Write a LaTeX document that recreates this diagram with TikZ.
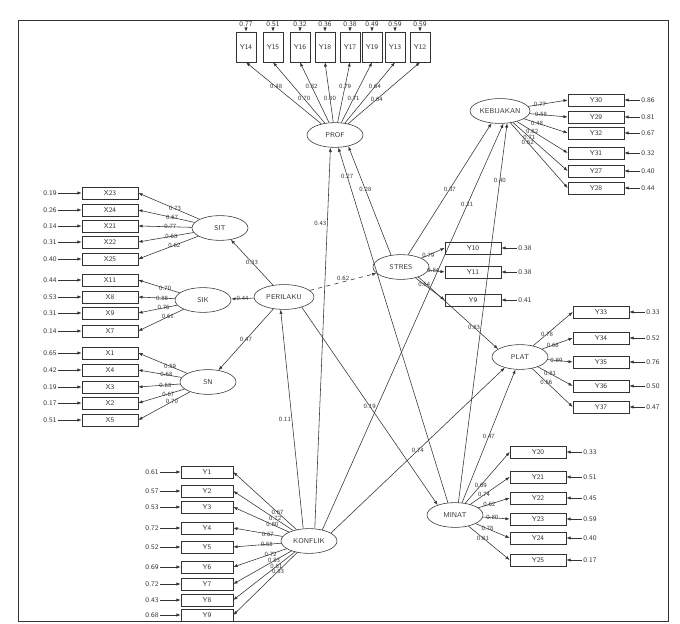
\documentclass[tikz,border=0pt]{standalone}
\usetikzlibrary{shapes.geometric, arrows.meta}

\begin{document}
\begin{tikzpicture}[x=0.025cm, y=-0.025cm, black!80, line width=0.4pt,
  lat/.style={draw, ellipse, minimum width=1.4cm, minimum height=0.62cm, inner sep=0pt, font=\tiny\sffamily},
  ind/.style={draw, rectangle, minimum width=1.4cm, minimum height=0.3cm, inner sep=0pt, font=\tiny\sffamily},
  indv/.style={draw, rectangle, minimum width=0.5cm, minimum height=0.75cm, inner sep=0pt, font=\tiny\sffamily},
  err/.style={font=\tiny\sffamily, inner sep=1pt},
  lbl/.style={font=\fontsize{4.5}{5}\sffamily, inner sep=0.5pt},
  lnk/.style={-{Latex[length=3pt]}}]
  \useasboundingbox (0,0) rectangle (680,624);
  \draw (18,20) rectangle (668,621);

  % latent variables
  \node[lat] (PROF) at (335,135) {PROF};
  \node[lat] (SIT) at (220,228) {SIT};
  \node[lat] (SIK) at (203,300) {SIK};
  \node[lat] (SN) at (208,382) {SN};
  \node[lat, minimum width=1.5cm] (PERILAKU) at (284,297) {PERILAKU};
  \node[lat] (STRES) at (401,267) {STRES};
  \node[lat, minimum width=1.5cm] (KEBIJ) at (500,111) {KEBIJAKAN};
  \node[lat] (PLAT) at (520,357) {PLAT};
  \node[lat] (MINAT) at (455,515) {MINAT};
  \node[lat] (KONFLIK) at (309,541) {KONFLIK};

  % top indicators
  \foreach \nm/\x/\e/\l/\p [count=\i] in {Y14/246/0.77/0.48/0.6, Y15/273/0.51/0.70/0.4, Y16/300/0.32/0.82/0.6,
      Y18/325/0.36/0.80/0.4, Y17/350/0.38/0.79/0.6, Y19/372/0.49/0.71/0.4, Y13/395/0.59/0.64/0.6, Y12/420/0.59/0.64/0.4}{
    \node[indv] (p\i) at (\x,47) {\nm};
    \node[err] (ep\i) at (\x,24) {\e};
    \draw[lnk] (ep\i) -- (p\i);
    \draw[lnk] (PROF) -- node[lbl, pos=\p] {\l} (p\i.south);
  }

  % left indicators
  \foreach \nm/\y/\e/\l [count=\i] in {X23/193/0.19/0.73, X24/210/0.26/0.67, X21/226/0.14/0.77,
      X22/242/0.31/0.68, X25/259/0.40/0.62}{
    \node[ind] (s\i) at (110,\y) {\nm};
    \node[err] (es\i) at (50,\y) {\e};
    \draw[lnk] (es\i) -- (s\i);
    \draw[lnk] (SIT) -- node[lbl, pos=0.4] {\l} (s\i.east);
  }
  \foreach \nm/\y/\e/\l [count=\i] in {X11/280/0.44/0.70, X8/297/0.53/0.88, X9/313/0.31/0.76,
      X7/331/0.14/0.61}{
    \node[ind] (k\i) at (110,\y) {\nm};
    \node[err] (ek\i) at (50,\y) {\e};
    \draw[lnk] (ek\i) -- (k\i);
    \draw[lnk] (SIK) -- node[lbl, pos=0.35] {\l} (k\i.east);
  }
  \foreach \nm/\y/\e/\l [count=\i] in {X1/353/0.65/0.59, X4/370/0.42/0.68, X3/387/0.19/0.68,
      X2/403/0.17/0.67, X5/420/0.51/0.70}{
    \node[ind] (n\i) at (110,\y) {\nm};
    \node[err] (en\i) at (50,\y) {\e};
    \draw[lnk] (en\i) -- (n\i);
    \draw[lnk] (SN) -- node[lbl, pos=0.35] {\l} (n\i.east);
  }

  % right indicators
  \foreach \nm/\y/\e/\l [count=\i] in {Y30/100/0.86/0.77, Y29/117/0.81/0.58, Y32/133/0.67/0.48,
      Y31/153/0.32/0.82, Y27/171/0.40/0.71, Y28/188/0.44/0.62}{
    \node[ind] (b\i) at (596,\y) {\nm};
    \node[err] (eb\i) at (648,\y) {\e};
    \draw[lnk] (eb\i) -- (b\i);
    \draw[lnk] (KEBIJ) -- node[lbl, pos=0.3] {\l} (b\i.west);
  }
  \foreach \nm/\y/\e/\l [count=\i] in {Y10/248/0.38/0.79, Y11/272/0.38/0.84, Y9/300/0.41/0.64}{
    \node[ind] (t\i) at (473,\y) {\nm};
    \node[err] (et\i) at (525,\y) {\e};
    \draw[lnk] (et\i) -- (t\i);
    \draw[lnk] (STRES) -- node[lbl, pos=0.3] {\l} (t\i.west);
  }
  \foreach \nm/\y/\e/\l [count=\i] in {Y33/312/0.33/0.78, Y34/338/0.52/0.68, Y35/362/0.76/0.89,
      Y36/386/0.50/0.81, Y37/407/0.47/0.56}{
    \node[ind] (l\i) at (601,\y) {\nm};
    \node[err] (el\i) at (653,\y) {\e};
    \draw[lnk] (el\i) -- (l\i);
    \draw[lnk] (PLAT) -- node[lbl, pos=0.35] {\l} (l\i.west);
  }
  \foreach \nm/\y/\e/\l [count=\i] in {Y20/452/0.33/0.69, Y21/477/0.51/0.74, Y22/498/0.45/0.62,
      Y23/519/0.59/0.80, Y24/538/0.40/0.78, Y25/560/0.17/0.81}{
    \node[ind] (m\i) at (538,\y) {\nm};
    \node[err] (em\i) at (590,\y) {\e};
    \draw[lnk] (em\i) -- (m\i);
    \draw[lnk] (MINAT) -- node[lbl, pos=0.35] {\l} (m\i.west);
  }

  % bottom indicators
  \foreach \nm/\y/\e/\l [count=\i] in {Y1/472/0.61/0.67, Y2/491/0.57/0.72, Y3/507/0.53/0.80,
      Y4/528/0.72/0.67, Y5/547/0.52/0.58, Y6/567/0.69/0.72, Y7/584/0.72/0.83,
      Y8/600/0.43/0.81, Y9/615/0.68/0.83}{
    \node[ind, minimum width=1.3cm] (f\i) at (207,\y) {\nm};
    \node[err] (ef\i) at (152,\y) {\e};
    \draw[lnk] (ef\i) -- (f\i);
    \draw[lnk] (KONFLIK) -- node[lbl, pos=0.3] {\l} (f\i.east);
  }

  % structural paths
  \draw[lnk] (PERILAKU) -- node[lbl, pos=0.5] {0.33} (SIT);
  \draw[lnk] (PERILAKU) -- node[lbl, pos=0.5] {0.44} (SIK);
  \draw[lnk] (PERILAKU) -- node[lbl, pos=0.5] {0.47} (SN);
  \draw[lnk, dashed] (PERILAKU) -- node[lbl, pos=0.5, above] {0.62} (STRES);
  \draw[lnk] (KONFLIK.115) -- node[lbl, pos=0.5, left] {0.11} (PERILAKU.255);
  \draw[lnk] (KONFLIK.65) -- node[lbl, pos=0.8, left] {0.43} (PROF.250);
  \draw[lnk] (STRES.130) -- node[lbl, pos=0.6] {0.28} (PROF.320);
  \draw[lnk] (MINAT.120) -- node[lbl, pos=0.92] {0.27} (PROF.285);
  \draw[lnk] (STRES.60) -- node[lbl, pos=0.5] {0.37} (KEBIJ.235);
  \draw[lnk] (KONFLIK.40) -- node[lbl, pos=0.8] {0.21} (KEBIJ.285);
  \draw[lnk] (MINAT.75) -- node[lbl, pos=0.85] {0.40} (KEBIJ.300);
  \draw[lnk] (STRES.330) -- node[lbl, pos=0.7] {0.83} (PLAT.160);
  \draw[lnk] (PERILAKU.330) -- node[lbl, pos=0.5] {0.19} (MINAT.150);
  \draw[lnk] (KONFLIK.20) -- node[lbl, pos=0.5] {0.74} (PLAT.215);
  \draw[lnk] (MINAT.60) -- node[lbl, pos=0.5] {0.47} (PLAT.250);
\end{tikzpicture}
\end{document}
